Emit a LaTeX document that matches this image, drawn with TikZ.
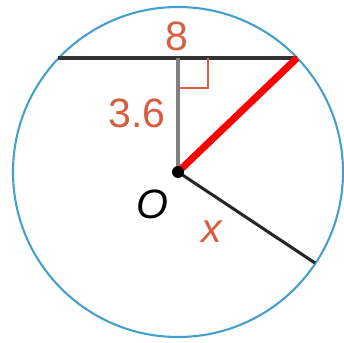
\documentclass[tikz,border=0pt]{standalone}
\usepackage{fontspec}
\setmainfont{Liberation Sans}
\usetikzlibrary{calc}
\definecolor{circblue}{RGB}{70,160,205}
\definecolor{lblorange}{RGB}{215,95,65}
\begin{document}
\begin{tikzpicture}[x=0.03cm, y=-0.03cm,
    lbl/.style={text=lblorange, font=\fontsize{35}{38}\selectfont, inner sep=0pt}]

  \useasboundingbox (0,0) rectangle (344,342);

  % points
  \coordinate (O) at (178,172);
  \coordinate (A) at (58,58);
  \coordinate (B) at (297,58);
  \coordinate (M) at (178,58);
  \coordinate (C) at (315,263);

  % circle
  \draw[circblue, line width=1.8pt] (O) circle[radius=165];

  % chord and perpendicular
  \draw[black!80, line width=2.8pt] (A) -- (B);
  \draw[gray, line width=3pt] (M) -- (O);

  % right angle mark
  \draw[lblorange, line width=1.5pt] ($(M)+(0,30)$) -- ++(30,0) -- ++(0,-30);

  % radii
  \draw[black!85, line width=2.6pt] (O) -- (C);
  \draw[red, line width=6pt] (O) -- (B);
  \fill (O) circle[radius=6];

  % labels
  \node[lbl] (l8) at (177,36) {8};
  \node[lbl] (l36) at (137,113) {3.6};
  \node[lbl, text=black] (lO) at (152,204) {\itshape O};
  \node[lbl] (lx) at (212,232) {\itshape x};

\end{tikzpicture}
\end{document}
